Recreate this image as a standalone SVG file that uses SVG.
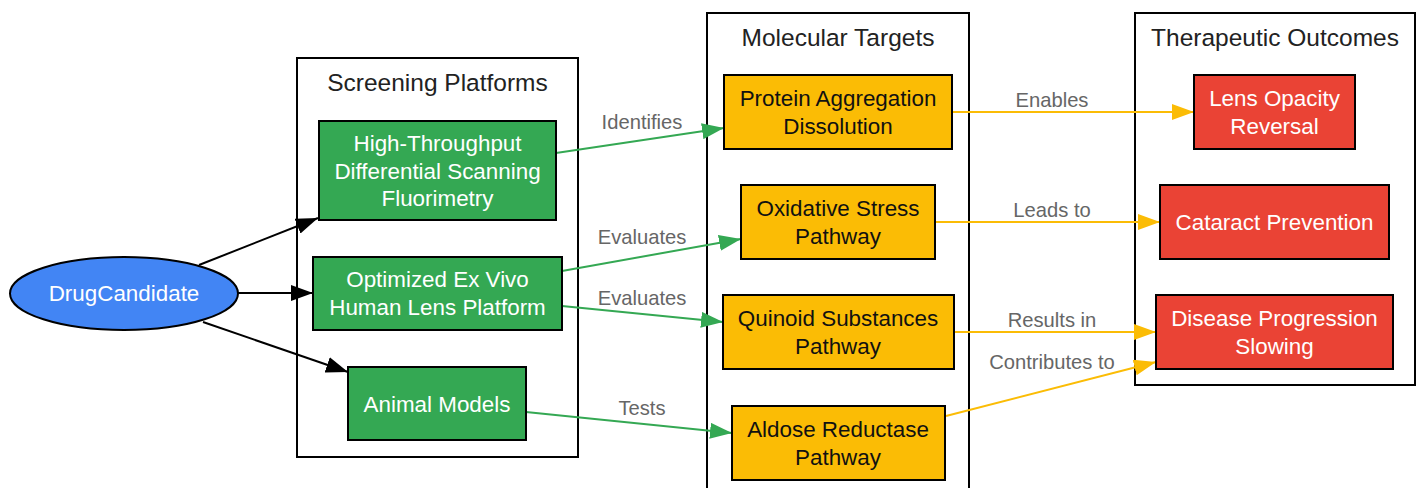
<svg xmlns="http://www.w3.org/2000/svg" width="1420" height="488" viewBox="0 0 1420 488">
<style>
text{font-family:"Liberation Sans",Arial,sans-serif;text-anchor:middle;dominant-baseline:central}
.cl{fill:#fff;stroke:#000;stroke-width:2}
.ct{font-size:24.5px;fill:#222}
.nd{stroke:#000;stroke-width:2}
.g{fill:#34A853}.y{fill:#FBBC05}.r{fill:#EA4335}.b{fill:#4285F4}
.wt{font-size:22.4px;fill:#fff}
.bt{font-size:22.4px;fill:#111}
.lb{font-size:20.2px;fill:#666}
.ek{stroke:#000;stroke-width:2;fill:none;marker-end:url(#ak)}
.eg{stroke:#34A853;stroke-width:2;fill:none;marker-end:url(#ag)}
.ey{stroke:#FBBC05;stroke-width:2;fill:none;marker-end:url(#ay)}
</style>
<defs>
<marker id="ak" markerUnits="userSpaceOnUse" markerWidth="22" markerHeight="16" refX="22" refY="8" orient="auto"><path d="M0,0 L22,8 L0,16 z" fill="#000"/></marker>
<marker id="ag" markerUnits="userSpaceOnUse" markerWidth="22" markerHeight="16" refX="22" refY="8" orient="auto"><path d="M0,0 L22,8 L0,16 z" fill="#34A853"/></marker>
<marker id="ay" markerUnits="userSpaceOnUse" markerWidth="22" markerHeight="16" refX="22" refY="8" orient="auto"><path d="M0,0 L22,8 L0,16 z" fill="#FBBC05"/></marker>
</defs>
<g id="cluster-screening"><rect class="cl" x="297" y="58" width="281" height="399"/><text class="ct" x="437.5" y="82">Screening Platforms</text></g>
<g id="cluster-targets"><rect class="cl" x="707" y="13" width="262" height="490"/><text class="ct" x="838" y="37">Molecular Targets</text></g>
<g id="cluster-outcomes"><rect class="cl" x="1135" y="13" width="280" height="372"/><text class="ct" x="1275" y="37">Therapeutic Outcomes</text></g>
<g id="connectors">
<line class="ek" x1="199" y1="265" x2="318" y2="218"/>
<line class="ek" x1="238" y1="293" x2="313" y2="293"/>
<line class="ek" x1="203" y1="322" x2="348" y2="372"/>
<line class="eg" x1="556" y1="153" x2="724" y2="128"/>
<line class="eg" x1="562" y1="271" x2="741" y2="239"/>
<line class="eg" x1="562" y1="306" x2="723" y2="322"/>
<line class="eg" x1="526" y1="412" x2="732" y2="433"/>
<line class="ey" x1="953" y1="112" x2="1194" y2="112"/>
<line class="ey" x1="936" y1="222" x2="1160" y2="222"/>
<line class="ey" x1="954" y1="332" x2="1156" y2="332"/>
<line class="ey" x1="946" y1="416" x2="1156" y2="362"/>
<text class="lb" x="642" y="122">Identifies</text>
<text class="lb" x="642" y="237">Evaluates</text>
<text class="lb" x="642" y="298">Evaluates</text>
<text class="lb" x="642" y="408">Tests</text>
<text class="lb" x="1052" y="100">Enables</text>
<text class="lb" x="1052" y="210">Leads to</text>
<text class="lb" x="1052" y="320">Results in</text>
<text class="lb" x="1052" y="362">Contributes to</text>
</g>
<g id="DrugCandidate"><ellipse class="nd b" cx="124" cy="293.5" rx="114" ry="36.5"/><text class="wt" x="124" y="293.5">DrugCandidate</text></g>
<g id="HTDSF"><rect class="nd g" x="319" y="121" width="237" height="99"/><text class="wt" x="437.5" y="143">High-Throughput</text><text class="wt" x="437.5" y="171">Differential Scanning</text><text class="wt" x="437.5" y="198">Fluorimetry</text></g>
<g id="ExVivo"><rect class="nd g" x="313" y="257" width="249" height="73"/><text class="wt" x="437.5" y="279">Optimized Ex Vivo</text><text class="wt" x="437.5" y="307">Human Lens Platform</text></g>
<g id="Animal"><rect class="nd g" x="348" y="367" width="178" height="73"/><text class="wt" x="437" y="404">Animal Models</text></g>
<g id="Protein"><rect class="nd y" x="724" y="75" width="228" height="74"/><text class="bt" x="838" y="98">Protein Aggregation</text><text class="bt" x="838" y="126">Dissolution</text></g>
<g id="Oxidative"><rect class="nd y" x="741" y="185" width="194" height="74"/><text class="bt" x="838" y="208">Oxidative Stress</text><text class="bt" x="838" y="236">Pathway</text></g>
<g id="Quinoid"><rect class="nd y" x="723" y="295" width="231" height="74"/><text class="bt" x="838" y="318">Quinoid Substances</text><text class="bt" x="838" y="346">Pathway</text></g>
<g id="Aldose"><rect class="nd y" x="732" y="406" width="213" height="74"/><text class="bt" x="838" y="429">Aldose Reductase</text><text class="bt" x="838" y="457">Pathway</text></g>
<g id="Lens"><rect class="nd r" x="1194" y="75" width="161" height="74"/><text class="wt" x="1274.5" y="98">Lens Opacity</text><text class="wt" x="1274.5" y="126">Reversal</text></g>
<g id="Cataract"><rect class="nd r" x="1160" y="185" width="229" height="74"/><text class="wt" x="1274.5" y="222">Cataract Prevention</text></g>
<g id="Disease"><rect class="nd r" x="1156" y="295" width="237" height="74"/><text class="wt" x="1274.5" y="318">Disease Progression</text><text class="wt" x="1274.5" y="346">Slowing</text></g>
</svg>
